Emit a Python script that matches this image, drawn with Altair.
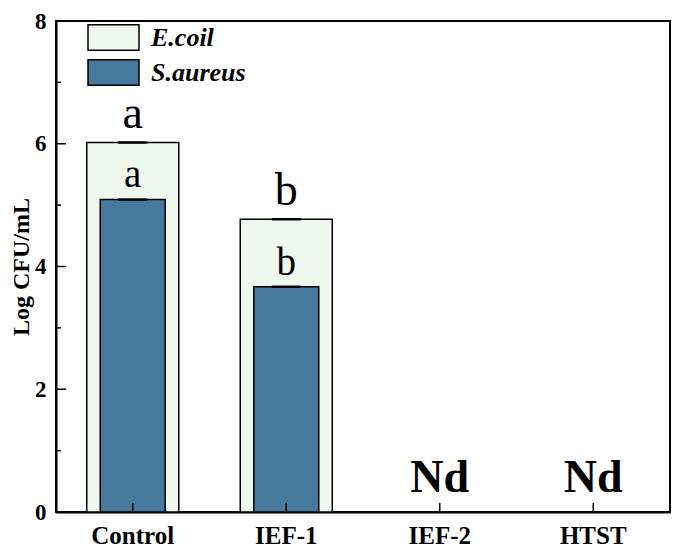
import altair as alt
import pandas as pd

categories = ["Control", "IEF-1", "IEF-2", "HTST"]
ecoli = [6.02, 4.77, 0.0, 0.0]
ecoli_err = [0.02, 0.02, 0.0, 0.0]
saureus = [5.09, 3.67, 0.0, 0.0]
saureus_err = [0.02, 0.02, 0.0, 0.0]
ecoli_letters = ["a", "b", "", ""]
saureus_letters = ["a", "b", "", ""]
nd_labels = ["", "", "Nd", "Nd"]
species = ["E.coil", "S.aureus"]
colors = ["#eff8ef", "#46799d"]
major_ticks = [0, 2, 4, 6, 8]
minor_ticks = [1, 3, 5, 7]

FONT = "Liberation Serif"
W, H = 614, 491

rows = []
for i, c in enumerate(categories):
    rows.append(dict(cat=c, sp="E.coil", value=ecoli[i], err=ecoli_err[i],
                     lo=ecoli[i] - ecoli_err[i], hi=ecoli[i] + ecoli_err[i],
                     letter=ecoli_letters[i], nd=nd_labels[i]))
    rows.append(dict(cat=c, sp="S.aureus", value=saureus[i], err=saureus_err[i],
                     lo=saureus[i] - saureus_err[i], hi=saureus[i] + saureus_err[i],
                     letter=saureus_letters[i], nd=nd_labels[i]))
df = pd.DataFrame(rows)

xscale = alt.Scale(domain=categories, paddingInner=0, paddingOuter=0)
xenc = alt.X("cat:N", sort=categories, scale=xscale,
             axis=alt.Axis(title=None, labelAngle=0, ticks=False, tickSize=0,
                           labelPadding=11))
xplain = alt.X("cat:N", sort=categories, scale=xscale)
yscale = alt.Scale(domain=[0, 8], nice=False)
yenc = alt.Y("value:Q", scale=yscale,
             axis=alt.Axis(title="Log CFU/mL", values=major_ticks, format="d",
                           ticks=False, tickSize=0, labelPadding=10, grid=False,
                           titlePadding=1))

color = alt.Color("sp:N", scale=alt.Scale(domain=species, range=colors),
                  legend=alt.Legend(title=None, orient="none", legendX=44, legendY=3,
                                    symbolType="M-2,-1H2V1H-2Z", symbolSize=650,
                                    symbolStrokeColor="black", symbolStrokeWidth=1.5,
                                    symbolOpacity=1,
                                    labelFont=FONT, labelFontSize=26, labelFontStyle="italic",
                                    labelFontWeight="bold", labelColor="black",
                                    labelOffset=24, rowPadding=2))

base = alt.Chart(df)

bars_e = base.transform_filter("datum.sp == 'E.coil' && datum.value > 0").mark_bar(
    size=92, stroke="black", strokeWidth=1.5, opacity=1).encode(x=xenc, y=yenc, color=color)
bars_s = base.transform_filter("datum.sp == 'S.aureus' && datum.value > 0").mark_bar(
    size=65, stroke="black", strokeWidth=1.5, opacity=1).encode(x=xenc, y=yenc, color=color)

err = base.transform_filter("datum.value > 0").mark_bar(size=29, color="black").encode(
    x=xplain, y=alt.Y("lo:Q", scale=yscale), y2="hi:Q")

letters_e = base.transform_filter("datum.sp == 'E.coil'").mark_text(
    font=FONT, fontSize=46, baseline="alphabetic", dy=-13, color="black").encode(
    x=xplain, y=alt.Y("hi:Q", scale=yscale), text="letter:N")
letters_s = base.transform_filter("datum.sp == 'S.aureus'").mark_text(
    font=FONT, fontSize=39, baseline="alphabetic", dy=-11, color="black").encode(
    x=xplain, y=alt.Y("hi:Q", scale=yscale), text="letter:N")
nd = base.transform_filter("datum.sp == 'E.coil'").mark_text(
    font=FONT, fontSize=46, fontWeight="bold", baseline="alphabetic", dy=-20, color="black").encode(
    x=xplain, y=alt.Y("value:Q", scale=yscale), text="nd:N")

xt = alt.Chart(pd.DataFrame({"cat": categories})).mark_rule(color="black", strokeWidth=1.5).encode(
    x=xplain, y=alt.value(H), y2=alt.value(H - 9))
ymaj = alt.Chart(pd.DataFrame({"t": major_ticks})).mark_rule(color="black", strokeWidth=1.5).encode(
    y=alt.Y("t:Q", scale=yscale), x=alt.value(0), x2=alt.value(10))
ymin = alt.Chart(pd.DataFrame({"t": minor_ticks})).mark_rule(color="black", strokeWidth=1.5).encode(
    y=alt.Y("t:Q", scale=yscale), x=alt.value(0), x2=alt.value(5))

chart = alt.layer(bars_e, bars_s, err, letters_e, letters_s, nd, xt, ymaj, ymin).properties(
    width=W, height=H, autosize=alt.AutoSizeParams(type="none"),
    padding={"left": 48, "top": 13, "right": 1, "bottom": 35}
).configure(background="white"
).configure_view(stroke="black", strokeWidth=2
).configure_axisX(labelFont=FONT, labelFontSize=25, labelFontWeight="bold",
                  labelColor="black", domainColor="black", domainWidth=2
).configure_axisY(labelFont=FONT, labelFontSize=23, labelFontWeight="bold",
                  labelColor="black", domainColor="black", domainWidth=2,
                  titleFont=FONT, titleFontSize=24, titleFontWeight="bold",
                  titleColor="black")

chart.save("out.html", embed_options={"renderer": "svg", "actions": False})
